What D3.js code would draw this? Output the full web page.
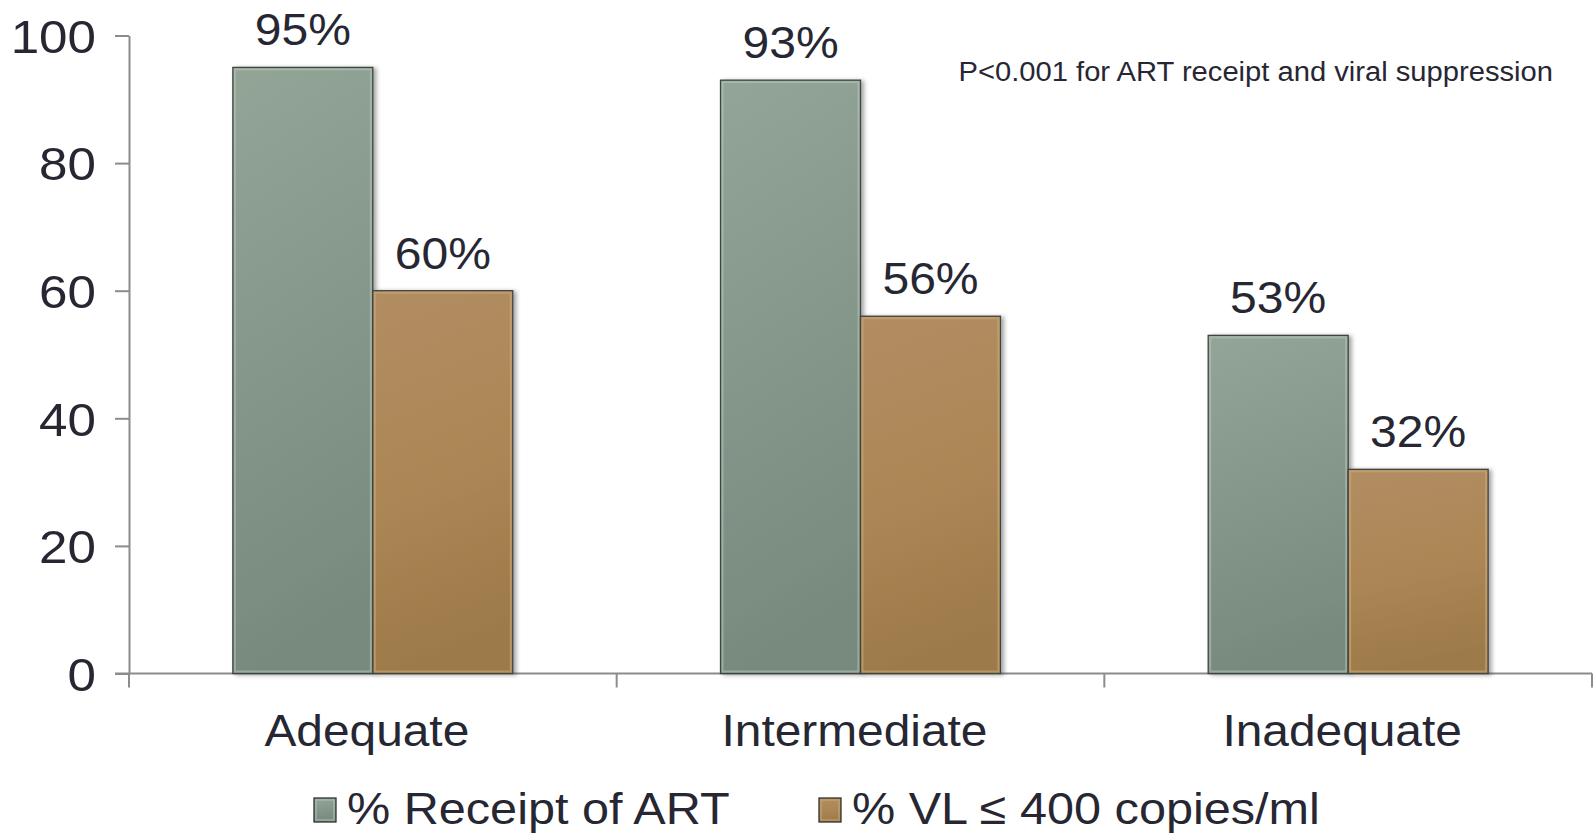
<!DOCTYPE html>
<html>
<head>
<meta charset="utf-8">
<script src="https://cdn.jsdelivr.net/npm/d3@7"></script>
<style>
  html, body { margin: 0; padding: 0; background: #fff; }
  svg { display: block; font-family: "Liberation Sans", Arial, sans-serif; }
</style>
</head>
<body>
<svg id="chart" width="1595" height="839"></svg>
<script>
// Adherence categories and the two measured outcomes
const categories = ["Adequate", "Intermediate", "Inadequate"];
const seriesNames = ["% Receipt of ART", "% VL \u2264 400 copies/ml"];
const receiptART = [95, 93, 53];
const vlSuppressed = [60, 56, 32];
const yTicks = [0, 20, 40, 60, 80, 100];
const note = "P<0.001 for ART receipt and viral suppression";

const W = 1595, H = 839;
const margin = { left: 129, right: 3, top: 35.5, bottom: 165.5 };
const textColor = "#272733";
const stretch = 1.08;   // slightly widened lettering

const svg = d3.select("#chart");
const defs = svg.append("defs");

// Bar fills: soft vertical gradients with a faint bevel
const palettes = [
  { id: "g0", top: "#93a597", mid: "#84968a", bot: "#788a7e", edge: "#b7c7bb" },
  { id: "g1", top: "#b18d62", mid: "#ac8655", bot: "#9d7a4a", edge: "#d2ab78" }
];
palettes.forEach(p => {
  const g = defs.append("linearGradient").attr("id", p.id)
    .attr("x1", 0).attr("y1", 0).attr("x2", 0.15).attr("y2", 1);
  g.append("stop").attr("offset", "0%").attr("stop-color", p.top);
  g.append("stop").attr("offset", "55%").attr("stop-color", p.mid);
  g.append("stop").attr("offset", "100%").attr("stop-color", p.bot);
});
const shadow = defs.append("filter").attr("id", "shadow")
  .attr("x", "-10%").attr("y", "-10%").attr("width", "130%").attr("height", "120%");
shadow.append("feDropShadow").attr("dx", 3).attr("dy", 1).attr("stdDeviation", 2)
  .attr("flood-color", "#000").attr("flood-opacity", 0.35);

const y = d3.scaleLinear().domain([0, 100]).range([H - margin.bottom, margin.top]);
const x = d3.scaleBand().domain(categories).range([margin.left, W - margin.right])
  .paddingInner(0).paddingOuter(0);
const xs = d3.scaleBand().domain(seriesNames).range([0, x.bandwidth()])
  .paddingInner(0).paddingOuter(0.742);

// place a text at (px, py) with horizontal widening
const place = (px, py, sx) => `translate(${px},${py}) scale(${sx},1)`;

// Y axis
const yAxis = svg.append("g")
  .attr("transform", `translate(${margin.left},0)`)
  .call(d3.axisLeft(y).tickValues(yTicks).tickSize(14).tickSizeOuter(0).tickPadding(22));
yAxis.select(".domain").attr("stroke", "#8c8c8c").attr("stroke-width", 2);
yAxis.selectAll(".tick line").attr("stroke", "#8c8c8c").attr("stroke-width", 2);
yAxis.selectAll(".tick text")
  .attr("x", null).attr("dy", "0.36em")
  .attr("transform", place(-33, 0, 1.1))
  .attr("fill", textColor).attr("font-size", 46.5)
  .attr("font-family", "Liberation Sans, Arial, sans-serif");

// X axis: baseline with ticks at category boundaries
const y0 = y(0);
const boundaries = categories.map(c => x(c)).concat([x(categories[categories.length - 1]) + x.bandwidth()]);
svg.append("line")
  .attr("x1", margin.left - 14).attr("x2", W - margin.right)
  .attr("y1", y0).attr("y2", y0)
  .attr("stroke", "#8c8c8c").attr("stroke-width", 2);
svg.selectAll(".xtick").data(boundaries).join("line")
  .attr("class", "xtick")
  .attr("x1", d => d).attr("x2", d => d)
  .attr("y1", y0).attr("y2", y0 + 14)
  .attr("stroke", "#8c8c8c").attr("stroke-width", 2);

// Bars
const seriesValues = [receiptART, vlSuppressed];
const rows = [];
categories.forEach((c, i) => {
  seriesNames.forEach((s, j) => rows.push({ cat: c, s, j, v: seriesValues[j][i] }));
});

const barG = svg.append("g");
const bars = barG.selectAll("g.bar").data(rows).join("g").attr("class", "bar");
bars.append("rect")
  .attr("x", d => x(d.cat) + xs(d.s))
  .attr("y", d => y(d.v))
  .attr("width", xs.bandwidth())
  .attr("height", d => y0 - y(d.v))
  .attr("fill", d => `url(#${palettes[d.j].id})`)
  .attr("stroke", "#3e4440").attr("stroke-width", 1.3)
  .attr("filter", "url(#shadow)");
// inner bevel highlight
bars.append("rect")
  .attr("x", d => x(d.cat) + xs(d.s) + 2)
  .attr("y", d => y(d.v) + 2)
  .attr("width", xs.bandwidth() - 4)
  .attr("height", d => y0 - y(d.v) - 4)
  .attr("fill", "none")
  .attr("stroke", d => palettes[d.j].edge)
  .attr("stroke-opacity", 0.55).attr("stroke-width", 2);

// Value labels
barG.selectAll("text.val").data(rows).join("text")
  .attr("class", "val")
  .attr("transform", d => place(x(d.cat) + xs(d.s) + xs.bandwidth() / 2, y(d.v) - 22, stretch))
  .attr("text-anchor", "middle")
  .attr("font-size", 44.5)
  .attr("fill", textColor)
  .text(d => d.v + "%");

// Category labels, set a little left of the band centre
svg.selectAll("text.cat").data(categories).join("text")
  .attr("class", "cat")
  .attr("transform", d => place(x(d) + x.bandwidth() / 2 - 6, 746, stretch))
  .attr("text-anchor", "middle")
  .attr("font-size", 44.3)
  .attr("fill", textColor)
  .text(d => d);

// Significance note
svg.append("text")
  .attr("transform", place(1553, 81, stretch))
  .attr("text-anchor", "end")
  .attr("font-size", 27)
  .attr("fill", textColor)
  .text(note);

// Legend
const legendX = [314, 819];
const lg = svg.selectAll("g.legend").data(seriesNames).join("g")
  .attr("class", "legend")
  .attr("transform", (d, i) => `translate(${legendX[i]},798)`);
lg.append("rect")
  .attr("width", 22).attr("height", 24)
  .attr("fill", (d, i) => `url(#${palettes[i].id})`)
  .attr("stroke", "#2e3430").attr("stroke-width", 1.3);
lg.append("rect")
  .attr("x", 2).attr("y", 2).attr("width", 18).attr("height", 20)
  .attr("fill", "none")
  .attr("stroke", (d, i) => palettes[i].edge).attr("stroke-opacity", 0.6).attr("stroke-width", 1.5);
lg.append("text")
  .attr("transform", place(33, 26, stretch))
  .attr("font-size", 45)
  .attr("fill", textColor)
  .text(d => d);
</script>
</body>
</html>
